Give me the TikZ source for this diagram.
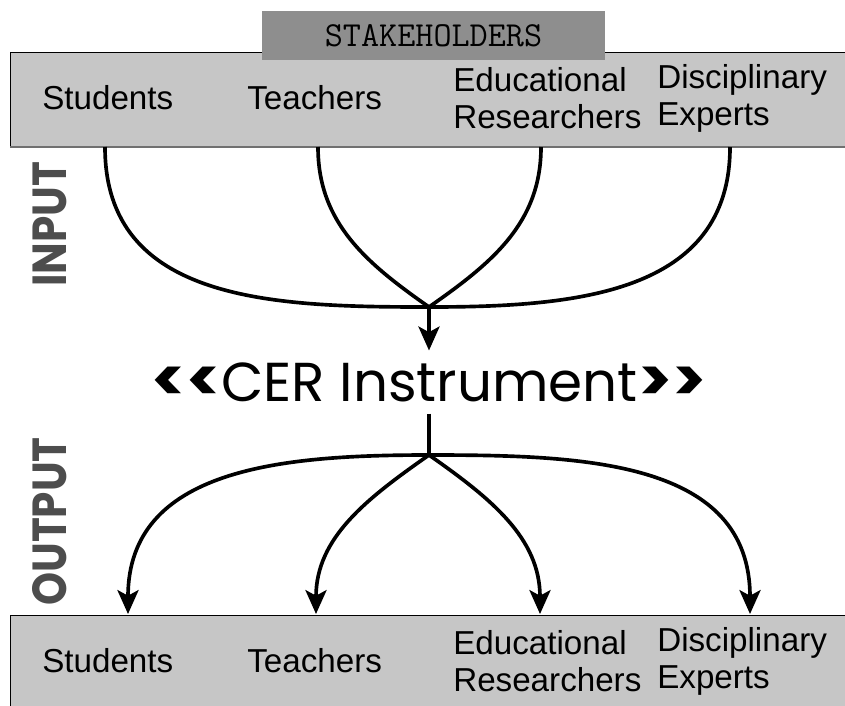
\documentclass[tikz,border=0pt]{standalone}
\usepackage{fontspec}
\setmainfont{Liberation Sans}
\newfontfamily\gothic{Poppins}
\newfontfamily\gothicnarrow[FakeStretch=0.88]{Poppins}
\usetikzlibrary{arrows.meta}
\definecolor{barfill}{HTML}{C6C6C6}
\definecolor{tabfill}{HTML}{8E8E8E}
\definecolor{sidegray}{HTML}{4D4D4D}
\definecolor{edgegray}{HTML}{707070}
\newcommand{\chev}[1]{\textbf{\scalebox{1.15}[1.1]{#1\kern0pt#1}}}

\begin{document}
\begin{tikzpicture}[x=0.025cm,y=-0.025cm,>={Stealth[length=17pt,width=15pt,inset=4pt]},
    bar/.style={fill=barfill,draw=black,line width=0.6pt,anchor=north west,minimum width=21.5cm},
    tab/.style={fill=tabfill,minimum width=8.575cm,minimum height=1.225cm,font=\ttfamily\fontsize{25}{25}\selectfont},
    who/.style={font=\fontsize{23.6}{26.3}\selectfont,align=left,anchor=west,inner sep=0pt},
    side/.style={rotate=90,inner sep=0pt,text=sidegray,font=\gothicnarrow\bfseries\fontsize{34}{34}\selectfont},
    link/.style={line width=2.6pt}]
    \useasboundingbox (0,0) rectangle (845,705);

    % stakeholders (input side)
    \node[bar,minimum height=2.35cm] (topbar) at (10,52) {};
    \draw[edgegray,line width=1.5pt] (topbar.south west) -- (topbar.south east);
    \node[tab] (tab) at (433.5,35.5) {STAKEHOLDERS};
    \node[who] (topStu) at (42,98) {Students};
    \node[who] (topTea) at (247,98) {Teachers};
    \node[who] (topEdu) at (453,98) {Educational\\Researchers};
    \node[who] (topDis) at (657,98) {Disciplinary\\Experts};

    % stakeholders (output side)
    \node[bar,minimum height=2.6cm] (botbar) at (10,615) {};
    \node[who] (botStu) at (42,661) {Students};
    \node[who] (botTea) at (247,661) {Teachers};
    \node[who] (botEdu) at (453,661) {Educational\\Researchers};
    \node[who] (botDis) at (657,661) {Disciplinary\\Experts};

    \node[side] (inLbl) at (50,224) {INPUT};
    \node[side] (outLbl) at (50,521.5) {OUTPUT};

    \node[inner sep=0pt,outer ysep=8.5pt,font=\gothic\fontsize{39}{39}\selectfont] (cer) at (429,382)
        {\chev{<}CER Instrument\chev{>}};

    \coordinate (inStu) at (105,147);
    \coordinate (inTea) at (318,147);
    \coordinate (inEdu) at (541,147);
    \coordinate (inDis) at (730,147);
    \coordinate (mergeIn) at (429,307);
    \coordinate (splitOut) at (429,455);
    \coordinate (outStu) at (128,614);
    \coordinate (outTea) at (316,614);
    \coordinate (outEdu) at (540,614);
    \coordinate (outDis) at (750,614);

    \path[link] (inStu) edge[out=-90,in=180,looseness=1.1] (mergeIn);
    \path[link] (inTea) edge[out=-90,in=145] (mergeIn);
    \path[link] (inEdu) edge[out=-90,in=35] (mergeIn);
    \path[link] (inDis) edge[out=-90,in=0,looseness=1.1] (mergeIn);
    \path[->,link] (mergeIn) edge (cer);

    \path[link] (cer) edge (splitOut);
    \path[->,link] (splitOut) edge[out=180,in=90,looseness=1.1] (outStu);
    \path[->,link] (splitOut) edge[out=-145,in=90] (outTea);
    \path[->,link] (splitOut) edge[out=-35,in=90] (outEdu);
    \path[->,link] (splitOut) edge[out=0,in=90,looseness=1.1] (outDis);
\end{tikzpicture}
\end{document}
